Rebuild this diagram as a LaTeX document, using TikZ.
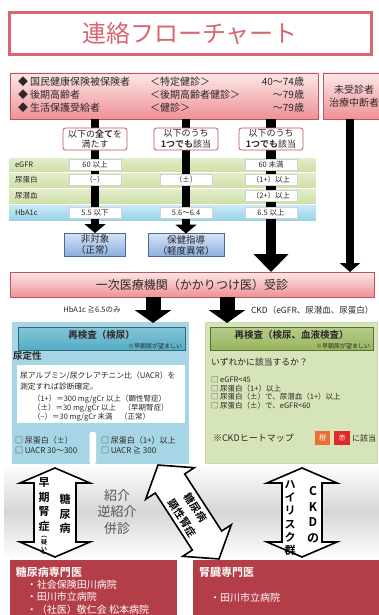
\documentclass[tikz,border=0pt]{standalone}
\usepackage{fontspec}
\setmainfont{Noto Sans CJK JP}[BoldFont={Noto Sans CJK JP Bold}]
\usetikzlibrary{arrows.meta}
\definecolor{ttl}{RGB}{217,101,112}
\definecolor{pkTop}{RGB}{253,232,232}
\definecolor{pkBot}{RGB}{238,145,150}
\definecolor{pkLine}{RGB}{196,82,86}
\definecolor{grA}{RGB}{228,238,205}
\definecolor{grB}{RGB}{205,224,165}
\definecolor{blA}{RGB}{205,236,246}
\definecolor{blB}{RGB}{150,210,232}
\definecolor{resA}{RGB}{214,228,246}
\definecolor{resB}{RGB}{138,174,222}
\definecolor{resLine}{RGB}{75,105,150}
\definecolor{cyBox}{RGB}{166,214,230}
\definecolor{cyHead}{RGB}{82,172,198}
\definecolor{gnBox}{RGB}{214,228,186}
\definecolor{gnHead}{RGB}{152,182,92}
\definecolor{dkRed}{RGB}{180,62,72}
\definecolor{hmOr}{RGB}{236,112,52}
\definecolor{hmRd}{RGB}{226,40,40}
\definecolor{txtDark}{RGB}{45,38,38}
\definecolor{midGray}{RGB}{85,85,85}
\newcommand{\dblarr}[7]{%
\begin{scope}[shift={(#1,#2)},rotate=#3]
\draw[dbl] (-#4,0) -- (-#4+#7,#6) -- (-#4+#7,#5) -- (#4-#7,#5) -- (#4-#7,#6) -- (#4,0) -- (#4-#7,-#6) -- (#4-#7,-#5) -- (-#4+#7,-#5) -- (-#4+#7,-#6) -- cycle;
\end{scope}}
\tikzset{
 pinkbox/.style={draw=pkLine, line width=0.8pt, top color=pkTop, bottom color=pkBot},
 toptxt/.style={font=\fontsize{10}{12}\selectfont, text=txtDark},
 lblbox/.style={draw=pkLine, line width=0.8pt, fill=white, rounded corners=2.5pt, minimum width=64pt, minimum height=22pt, align=center, font=\fontsize{9}{10.5}\selectfont, text=txtDark},
 rowlbl/.style={anchor=west, font=\fontsize{7.5}{9}\selectfont, text=txtDark},
 cell/.style={fill=white, draw=gray!35, line width=0.3pt, minimum width=52pt, minimum height=11pt, font=\fontsize{7.5}{9}\selectfont, text=txtDark},
 resbox/.style={draw=resLine, line width=0.7pt, top color=resA, bottom color=resB, minimum height=23pt, align=center, font=\fontsize{9.5}{11}\selectfont, text=txtDark},
 vline/.style={line width=8pt, black},
 dbl/.style={draw=black, line width=1.6pt, fill=white, line join=miter},
 vtxt/.style={align=center, font=\bfseries\fontsize{11}{14.5}\selectfont},
 wtxt/.style={anchor=west, text=white, font=\fontsize{10}{12}\selectfont},
 smtxt/.style={anchor=west, text=txtDark, font=\fontsize{7.5}{9}\selectfont},
 diagtxt/.style={rotate=-57, font=\bfseries\fontsize{10.5}{12}\selectfont},
}
\begin{document}
\begin{tikzpicture}[x=1pt,y=-1pt, every node/.style={inner sep=0pt, outer sep=0pt}]
\useasboundingbox (0,0) rectangle (379,615);
\fill[white] (0,0) rectangle (379,615);
% title
\node[draw=ttl, line width=3pt, minimum width=362pt, minimum height=42pt, text=ttl, font=\fontsize{24}{26}\selectfont] (title) at (190,34) {連絡フローチャート};
% top boxes
\node[pinkbox, minimum width=308pt, minimum height=46pt] (top) at (164,96) {};
\node[pinkbox, minimum width=62pt, minimum height=46pt, align=center, font=\fontsize{10}{13}\selectfont, text=txtDark] (miju) at (354,96) {未受診者\\治療中断者};
\node[toptxt, anchor=west] (r1a) at (18,82) {◆ 国民健康保険被保険者};
\node[toptxt, anchor=west] (r2a) at (18,95) {◆ 後期高齢者};
\node[toptxt, anchor=west] (r3a) at (18,108) {◆ 生活保護受給者};
\node[toptxt, anchor=west] (r1b) at (150,82) {＜特定健診＞};
\node[toptxt, anchor=west] (r2b) at (150,95) {＜後期高齢者健診＞};
\node[toptxt, anchor=west] (r3b) at (150,108) {＜健診＞};
\node[toptxt, anchor=east] (r1c) at (304,82) {40〜74歳};
\node[toptxt, anchor=east] (r2c) at (304,95) {〜79歳};
\node[toptxt, anchor=east] (r3c) at (304,108) {〜79歳};
% table background
\shade[top color=grA, bottom color=grB, draw=white, line width=0.6pt] (8,157) rectangle (316,172);
\shade[top color=grA, bottom color=grB, draw=white, line width=0.6pt] (8,172) rectangle (316,188);
\shade[top color=grA, bottom color=grB, draw=white, line width=0.6pt] (8,188) rectangle (316,204);
\shade[top color=blA, bottom color=blB, draw=white, line width=0.6pt] (8,204) rectangle (316,221);
\node[rowlbl] (t1) at (15,164.5) {eGFR};
\node[rowlbl] (t2) at (15,180) {尿蛋白};
\node[rowlbl] (t3) at (15,196) {尿潜血};
\node[rowlbl] (t4) at (15,212.5) {HbA1c};
% result boxes
\node[resbox, minimum width=61pt] (res1) at (95,244.5) {非対象\\（正常）};
\node[resbox, minimum width=76pt] (res2) at (186,245) {保健指導\\（軽度異常）};
% first-visit box
\node[pinkbox, minimum width=364pt, minimum height=25pt, font=\fontsize{12}{14}\selectfont, text=txtDark] (ichiji) at (192,284.5) {一次医療機関（かかりつけ医）受診};
\coordinate (c3) at (271,272);
\coordinate (c4) at (350,272);
% lines
\draw[vline, -{Triangle[width=21pt,length=9pt]}] (top.south -| res1.north) -- (res1.north);
\draw[vline, -{Triangle[width=21pt,length=9pt]}] (top.south -| res2.north) -- (res2.north);
\draw[line width=10pt, -{Triangle[width=34pt,length=18pt]}] (top.south -| c3) -- (c3);
\draw[vline, -{Triangle[width=20pt,length=9pt]}] (miju.south -| c4) -- (c4);
% label boxes
\node[lblbox] (lb1) at (95,139) {以下の\textbf{全て}を\\満たす};
\node[lblbox] (lb2) at (186,139) {以下のうち\\\textbf{1つでも}該当};
\node[lblbox] (lb3) at (271,139) {以下のうち\\\textbf{1つでも}該当};
% cells
\node[cell] (e1) at (95,164.5) {60 以上};
\node[cell] (e3) at (271,164.5) {60 未満};
\node[cell] (p1) at (95,180) {（−）};
\node[cell] (p2) at (186,180) {（±）};
\node[cell] (p3) at (271,180) {（1+）以上};
\node[cell] (b3) at (271,196) {（2+）以上};
\node[cell] (h1) at (95,212.5) {5.5 以下};
\node[cell] (h2) at (186,212.5) {5.6〜6.4};
\node[cell] (h3) at (271,212.5) {6.5 以上};
% labels below first-visit
\node[text=txtDark, font=\fontsize{7.5}{9}\selectfont] (lh) at (92,310) {HbA1c ≧6.5のみ};
\node[anchor=west, text=txtDark, font=\fontsize{8.5}{10}\selectfont] (lc) at (251,310) {CKD（eGFR、尿潜血、尿蛋白）};
% blue box
\node[fill=cyBox, draw=cyHead!50, line width=0.5pt, minimum width=176pt, minimum height=141pt] (blue) at (100,393) {};
\node[draw=cyHead!60!black, line width=0.5pt, top color=cyHead!70, bottom color=cyHead, minimum width=167pt, minimum height=23pt] (bhead) at (101.5,338.5) {};
\node[font=\bfseries\fontsize{9.5}{11}\selectfont, text=txtDark] (bh1) at (101.5,335) {再検査（検尿）};
\node[anchor=east, font=\fontsize{6}{7}\selectfont, text=txtDark] (bh2) at (182,346) {※早朝尿が望ましい};
\node[anchor=west, font=\bfseries\fontsize{9.5}{11}\selectfont, text=txtDark] (teisei) at (13,356) {尿定性};
\node[fill=white, minimum width=168pt, minimum height=58pt] (wbox) at (101,393.5) {};
\node[smtxt, font=\fontsize{7.8}{9}\selectfont] (w1) at (20,376) {尿アルブミン/尿クレアチニン比（UACR）を};
\node[smtxt, font=\fontsize{7.8}{9}\selectfont] (w2) at (20,386.5) {測定すれば診断確定。};
\node[smtxt] (w3) at (33,399) {（1+）＝300 mg/gCr 以上（顕性腎症）};
\node[smtxt] (w4) at (33,408) {（±）＝30 mg/gCr 以上　（早期腎症）};
\node[smtxt] (w5) at (33,417) {（−）＝30 mg/gCr 未満　（正常）};
\node[smtxt, font=\fontsize{8}{9}\selectfont] (k1) at (15,440) {□ 尿蛋白（±）};
\node[smtxt, font=\fontsize{8}{9}\selectfont] (k2) at (15,450.5) {□ UACR 30〜300};
\node[smtxt, font=\fontsize{8}{9}\selectfont] (k3) at (101,440) {□ 尿蛋白（1+）以上};
\node[smtxt, font=\fontsize{8}{9}\selectfont] (k4) at (101,450.5) {□ UACR ≧ 300};
\fill[white, rounded corners=2pt] (89.5,432) rectangle (96,464);
% green box
\node[fill=gnBox, draw=gnHead!50, line width=0.5pt, minimum width=172pt, minimum height=141pt] (green) at (291,393) {};
\node[draw=gnHead!60!black, line width=0.5pt, top color=gnHead!70, bottom color=gnHead, minimum width=163pt, minimum height=23pt] (ghead) at (291.5,338.5) {};
\node[font=\bfseries\fontsize{9.5}{11}\selectfont, text=txtDark] (gh1) at (291.5,335) {再検査（検尿、血液検査）};
\node[anchor=east, font=\fontsize{6}{7}\selectfont, text=txtDark] (gh2) at (370,346) {※早朝尿が望ましい};
\node[smtxt, font=\fontsize{8.8}{10}\selectfont] (q) at (211,362) {いずれかに該当するか？};
\node[smtxt] (g1) at (211,380) {□ eGFR<45};
\node[smtxt] (g2) at (211,388.5) {□ 尿蛋白（1+）以上};
\node[smtxt] (g3) at (211,397) {□ 尿蛋白（±）で、尿潜血（1+）以上};
\node[smtxt] (g4) at (211,405.5) {□ 尿蛋白（±）で、eGFR<60};
\node[smtxt, font=\fontsize{9}{11}\selectfont] (hm) at (213,438) {※CKDヒートマップ};
\node[fill=hmOr, minimum width=15pt, minimum height=14pt, text=white, font=\fontsize{7}{8}\selectfont] (hm1) at (322.5,438) {橙};
\node[fill=hmRd, minimum width=16pt, minimum height=14pt, text=white, font=\fontsize{7}{8}\selectfont] (hm2) at (342,438) {赤};
\node[smtxt, font=\fontsize{8}{10}\selectfont] (hm3) at (352,438) {に該当};
% block arrows
\coordinate (a1) at (153,323);
\coordinate (a2) at (227,323);
\draw[line width=15pt, -{Triangle[width=36pt,length=13pt]}] (ichiji.south -| a1) -- (a1);
\draw[line width=15pt, -{Triangle[width=36pt,length=13pt]}] (ichiji.south -| a2) -- (a2);
% gray band
\shade[top color=white, bottom color=white, middle color=gray!32] (4,464) rectangle (379,559);
% double arrows
\dblarr{55}{512.5}{90}{44.5}{21}{35}{15}
\dblarr{302}{512.5}{90}{44.5}{20}{35}{15}
\dblarr{188.5}{512}{-57}{56}{17.5}{29}{22}
\node[vtxt] (d1) at (65,514) {糖\\尿\\病};
\node[vtxt] (d2) at (44,504.5) {早\\期\\腎\\症};
\node[align=center, font=\bfseries\fontsize{6}{6.8}\selectfont] (d3) at (44,547) {︵\\疑\\い\\︶};
\node[align=center, font=\bfseries\fontsize{12}{15.5}\selectfont] (ck1) at (313,515) {C\\K\\D\\の};
\node[align=center, font=\bfseries\fontsize{11}{13.2}\selectfont] (ck2) at (290,518) {ハ\\イ\\リ\\ス\\ク\\群};
\node[diagtxt] (dg1) at (195.5,507.5) {糖尿病};
\node[diagtxt] (dg2) at (182.6,518.2) {顕性腎症};
\node[align=center, text=midGray, font=\fontsize{13}{16.7}\selectfont] (mid) at (117,512) {紹介\\逆紹介\\併診};
% specialist boxes
\node[fill=dkRed, minimum width=167pt, minimum height=60pt, anchor=north west] (dm) at (10,560) {};
\node[fill=dkRed, minimum width=192pt, minimum height=60pt, anchor=north west] (jin) at (193,560) {};
\node[wtxt, font=\bfseries\fontsize{11}{13}\selectfont] (dm0) at (16,572) {糖尿病専門医};
\node[wtxt] (dm1) at (27,584.5) {・社会保険田川病院};
\node[wtxt] (dm2) at (27,597) {・田川市立病院};
\node[wtxt] (dm3) at (27,609.5) {・（社医）敬仁会 松本病院};
\node[wtxt, font=\bfseries\fontsize{11}{13}\selectfont] (jn0) at (199,572) {腎臓専門医};
\node[wtxt] (jn1) at (210,598) {・田川市立病院};
\end{tikzpicture}
\end{document}
